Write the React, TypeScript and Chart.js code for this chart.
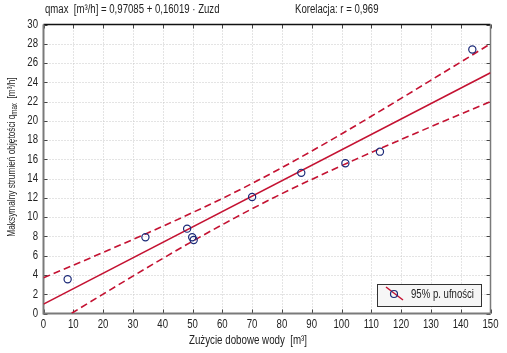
import React, { useEffect, useRef } from "react";
import { Chart, registerables } from "chart.js";
Chart.register(...registerables);

const pointsX = [8.1, 34.2, 48.2, 49.9, 50.4, 70.0, 86.5, 101.3, 112.9, 143.9];
const pointsY = [3.55, 7.91, 8.81, 7.91, 7.63, 12.1, 14.6, 15.6, 16.8, 27.4];
const fitX = [0, 150];
const fitY = [0.97085, 25.0];
const bandX = [0, 10, 20, 30, 40, 50, 60, 70, 80, 90, 100, 110, 120, 130, 140, 150];
const upperY = [3.7, 5.01, 6.34, 7.68, 9.05, 10.47, 11.94, 13.5, 15.14, 16.86, 18.64, 20.47, 22.33, 24.21, 26.1, 28.0];
const lowerY = [-1.76, 0.13, 2.01, 3.88, 5.71, 7.5, 9.22, 10.87, 12.44, 13.92, 15.34, 16.72, 18.06, 19.39, 20.7, 22.0];
const xMin = 0, xMax = 150, xStep = 10;
const yMin = 0, yMax = 30, yStep = 2;
const titleLeft = "qmax  [m³/h] = 0,97085 + 0,16019 · Zuzd";
const titleRight = "Korelacja: r = 0,969";
const xTitle = "Zużycie dobowe wody  [m³]";
const yTitleMain = "Maksymalny strumień objętości q";
const yTitleSub = "max";
const yTitleUnit = "  [m³/h]";
const legendLabel = "95% p. ufności";

const FONT = '"Liberation Sans", Arial, sans-serif';
const SX = 0.8;
const RED = "#c41232";
const BLUE = "#1c2a78";
const TXT = "#222";

function narrowText(ctx: any, text: string, x: number, y: number, align: string, size: number, sx = SX) {
  ctx.save();
  ctx.translate(x, y);
  ctx.scale(sx, 1);
  ctx.font = `${size}px ${FONT}`;
  ctx.textAlign = align;
  ctx.textBaseline = "middle";
  ctx.fillText(text, 0, 0);
  ctx.restore();
}

const decor = {
  id: "decor",
  beforeDatasetsDraw(chart: any) {
    const { ctx, chartArea: a, scales } = chart;
    const xs = scales.x, ys = scales.y;
    ctx.save();
    ctx.strokeStyle = "#c8c8c8";
    ctx.lineWidth = 1;
    ctx.setLineDash([1, 2]);
    for (let v = xMin + xStep; v < xMax; v += xStep) {
      const px = Math.round(xs.getPixelForValue(v)) + 0.5;
      ctx.beginPath(); ctx.moveTo(px, a.top); ctx.lineTo(px, a.bottom); ctx.stroke();
    }
    for (let v = yMin + yStep; v < yMax; v += yStep) {
      const py = Math.round(ys.getPixelForValue(v)) + 0.5;
      ctx.beginPath(); ctx.moveTo(a.left, py); ctx.lineTo(a.right, py); ctx.stroke();
    }
    ctx.setLineDash([]);
    ctx.strokeStyle = "#444";
    ctx.lineWidth = 1;
    for (let v = xMin; v <= xMax; v += xStep) {
      const px = Math.round(xs.getPixelForValue(v)) + 0.5;
      ctx.beginPath(); ctx.moveTo(px, a.top); ctx.lineTo(px, a.top + 4); ctx.stroke();
      ctx.beginPath(); ctx.moveTo(px, a.bottom); ctx.lineTo(px, a.bottom - 4); ctx.stroke();
    }
    for (let v = yMin; v <= yMax; v += yStep) {
      const py = Math.round(ys.getPixelForValue(v)) + 0.5;
      ctx.beginPath(); ctx.moveTo(a.left, py); ctx.lineTo(a.left + 4, py); ctx.stroke();
      ctx.beginPath(); ctx.moveTo(a.right, py); ctx.lineTo(a.right - 4, py); ctx.stroke();
    }
    ctx.lineWidth = 1.5;
    ctx.strokeStyle = "#111";
    ctx.beginPath(); ctx.moveTo(a.left, a.top); ctx.lineTo(a.right, a.top); ctx.stroke();
    ctx.strokeStyle = "#7a7a7a";
    ctx.lineWidth = 2;
    ctx.beginPath(); ctx.moveTo(a.left, a.top); ctx.lineTo(a.left, a.bottom); ctx.lineTo(a.right, a.bottom); ctx.stroke();
    ctx.lineWidth = 1.5;
    ctx.beginPath(); ctx.moveTo(a.right, a.top); ctx.lineTo(a.right, a.bottom); ctx.stroke();
    ctx.restore();
  },
  afterDraw(chart: any) {
    const { ctx, chartArea: a, scales } = chart;
    const xs = scales.x, ys = scales.y;
    ctx.save();
    ctx.fillStyle = TXT;
    for (let v = xMin; v <= xMax; v += xStep) {
      narrowText(ctx, String(v), xs.getPixelForValue(v), a.bottom + 11, "center", 12);
    }
    for (let v = yMin; v <= yMax; v += yStep) {
      narrowText(ctx, String(v), a.left - 5.5, ys.getPixelForValue(v), "right", 12);
    }
    narrowText(ctx, titleLeft, 45, 10, "left", 12);
    narrowText(ctx, titleRight, 295, 10, "left", 12);
    narrowText(ctx, xTitle, 248, 341, "center", 12.5, 0.78);
    // y title rotated
    ctx.save();
    ctx.translate(12, 157);
    ctx.rotate(-Math.PI / 2);
    ctx.scale(0.72, 1);
    ctx.textAlign = "left";
    ctx.textBaseline = "middle";
    const fMain = `11.5px ${FONT}`;
    const fSub = `8.5px ${FONT}`;
    ctx.font = fMain;
    const w1 = ctx.measureText(yTitleMain).width;
    const w3 = ctx.measureText(yTitleUnit).width;
    ctx.font = fSub;
    const w2 = ctx.measureText(yTitleSub).width;
    let x0 = -(w1 + w2 + w3) / 2;
    ctx.font = fMain;
    ctx.fillText(yTitleMain, x0, 0);
    x0 += w1;
    ctx.font = fSub;
    ctx.fillText(yTitleSub, x0, 3);
    x0 += w2;
    ctx.font = fMain;
    ctx.fillText(yTitleUnit, x0, 0);
    ctx.restore();
    // legend box
    const bx = 377, by = 284, bw = 104, bh = 22;
    ctx.fillStyle = "#f6f6f6";
    ctx.fillRect(bx, by, bw, bh);
    ctx.strokeStyle = "#333";
    ctx.lineWidth = 1;
    ctx.strokeRect(bx + 0.5, by + 0.5, bw, bh);
    ctx.strokeStyle = RED;
    ctx.lineWidth = 1.5;
    ctx.beginPath(); ctx.moveTo(386, 287); ctx.lineTo(403, 300); ctx.stroke();
    ctx.strokeStyle = BLUE;
    ctx.lineWidth = 1.2;
    ctx.beginPath(); ctx.arc(394, 294, 3.5, 0, Math.PI * 2); ctx.stroke();
    ctx.fillStyle = TXT;
    narrowText(ctx, legendLabel, 411, 295, "left", 12);
    ctx.restore();
  },
};

export default function App() {
  const ref = useRef<HTMLCanvasElement | null>(null);
  useEffect(() => {
    document.body.style.margin = "0";
    const toPts = (xs: number[], ys: number[]) => xs.map((x, i) => ({ x, y: ys[i] }));
    const chart = new Chart(ref.current as HTMLCanvasElement, {
      type: "scatter",
      data: {
        datasets: [
          {
            data: toPts(pointsX, pointsY),
            showLine: false,
            pointRadius: 3.6,
            pointBorderWidth: 1.2,
            pointBorderColor: BLUE,
            pointBackgroundColor: "rgba(0,0,0,0)",
            order: 0,
          },
          {
            data: toPts(fitX, fitY),
            showLine: true,
            borderColor: RED,
            borderWidth: 1.6,
            pointRadius: 0,
            order: 1,
          },
          {
            data: toPts(bandX, upperY),
            showLine: true,
            borderColor: RED,
            borderWidth: 1.6,
            borderDash: [7, 4],
            cubicInterpolationMode: "monotone",
            pointRadius: 0,
            order: 1,
          },
          {
            data: toPts(bandX, lowerY),
            showLine: true,
            borderColor: RED,
            borderWidth: 1.6,
            borderDash: [7, 4],
            cubicInterpolationMode: "monotone",
            pointRadius: 0,
            order: 1,
          },
        ],
      } as any,
      options: {
        animation: false,
        responsive: false,
        devicePixelRatio: 1,
        layout: { padding: { top: 24.5, right: 16.5, left: 0, bottom: 0 } },
        plugins: { legend: { display: false }, tooltip: { enabled: false } },
        scales: {
          x: {
            type: "linear",
            min: xMin,
            max: xMax,
            grid: { display: false, drawTicks: false },
            border: { display: false },
            ticks: { stepSize: xStep, display: false },
            afterFit: (s: any) => { s.height = 39.5; },
          },
          y: {
            type: "linear",
            min: yMin,
            max: yMax,
            grid: { display: false, drawTicks: false },
            border: { display: false },
            ticks: { stepSize: yStep, display: false },
            afterFit: (s: any) => { s.width = 43.5; },
          },
        },
      } as any,
      plugins: [decor],
    });
    return () => chart.destroy();
  }, []);
  return <canvas ref={ref} width={507} height={353} style={{ display: "block", width: 507, height: 353 }} />;
}
